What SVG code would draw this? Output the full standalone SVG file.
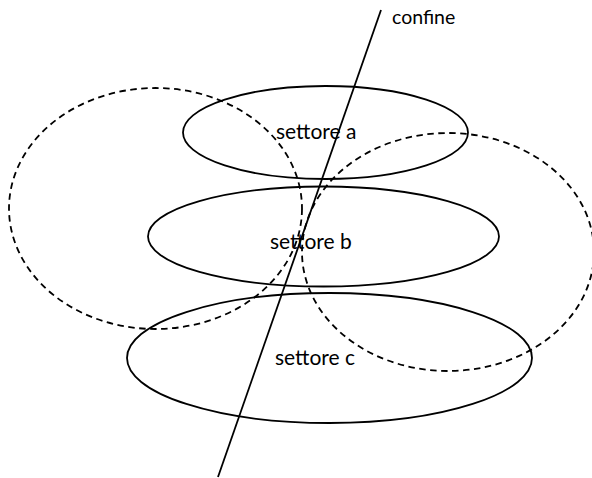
<svg xmlns="http://www.w3.org/2000/svg" width="592" height="478" viewBox="0 0 592 478">
<style>
.sector{fill:none;stroke:#000;stroke-width:1.8}
.zone{fill:none;stroke:#000;stroke-width:1.8;stroke-dasharray:6.5 4.5}
.lbl{font-family:Lato,"Liberation Sans",sans-serif;font-size:21px;fill:#000}
.small{font-size:19.5px}
.line{stroke:#000;stroke-width:1.8;fill:none}
</style>
<rect width="592" height="478" fill="#fff"/>
<g id="zone-left"><ellipse class="zone" cx="155.5" cy="208.5" rx="146.5" ry="120.5"/></g>
<g id="zone-right"><ellipse class="zone" cx="448" cy="252" rx="146" ry="119"/></g>
<g id="settore-a"><ellipse class="sector" cx="325.5" cy="132.5" rx="142.5" ry="46.5"/><text class="lbl" x="276" y="139">settore a</text></g>
<g id="settore-b"><ellipse class="sector" cx="323.5" cy="236.5" rx="175.5" ry="50"/><text class="lbl" x="270" y="249">settore b</text></g>
<g id="settore-c"><ellipse class="sector" cx="329.5" cy="358" rx="202.5" ry="65"/><text class="lbl" x="275" y="365">settore c</text></g>
<g id="connectors"><line class="line" x1="381" y1="10" x2="218" y2="477"/></g>
<g id="confine"><text class="lbl small" x="392" y="24">confine</text></g>
</svg>
